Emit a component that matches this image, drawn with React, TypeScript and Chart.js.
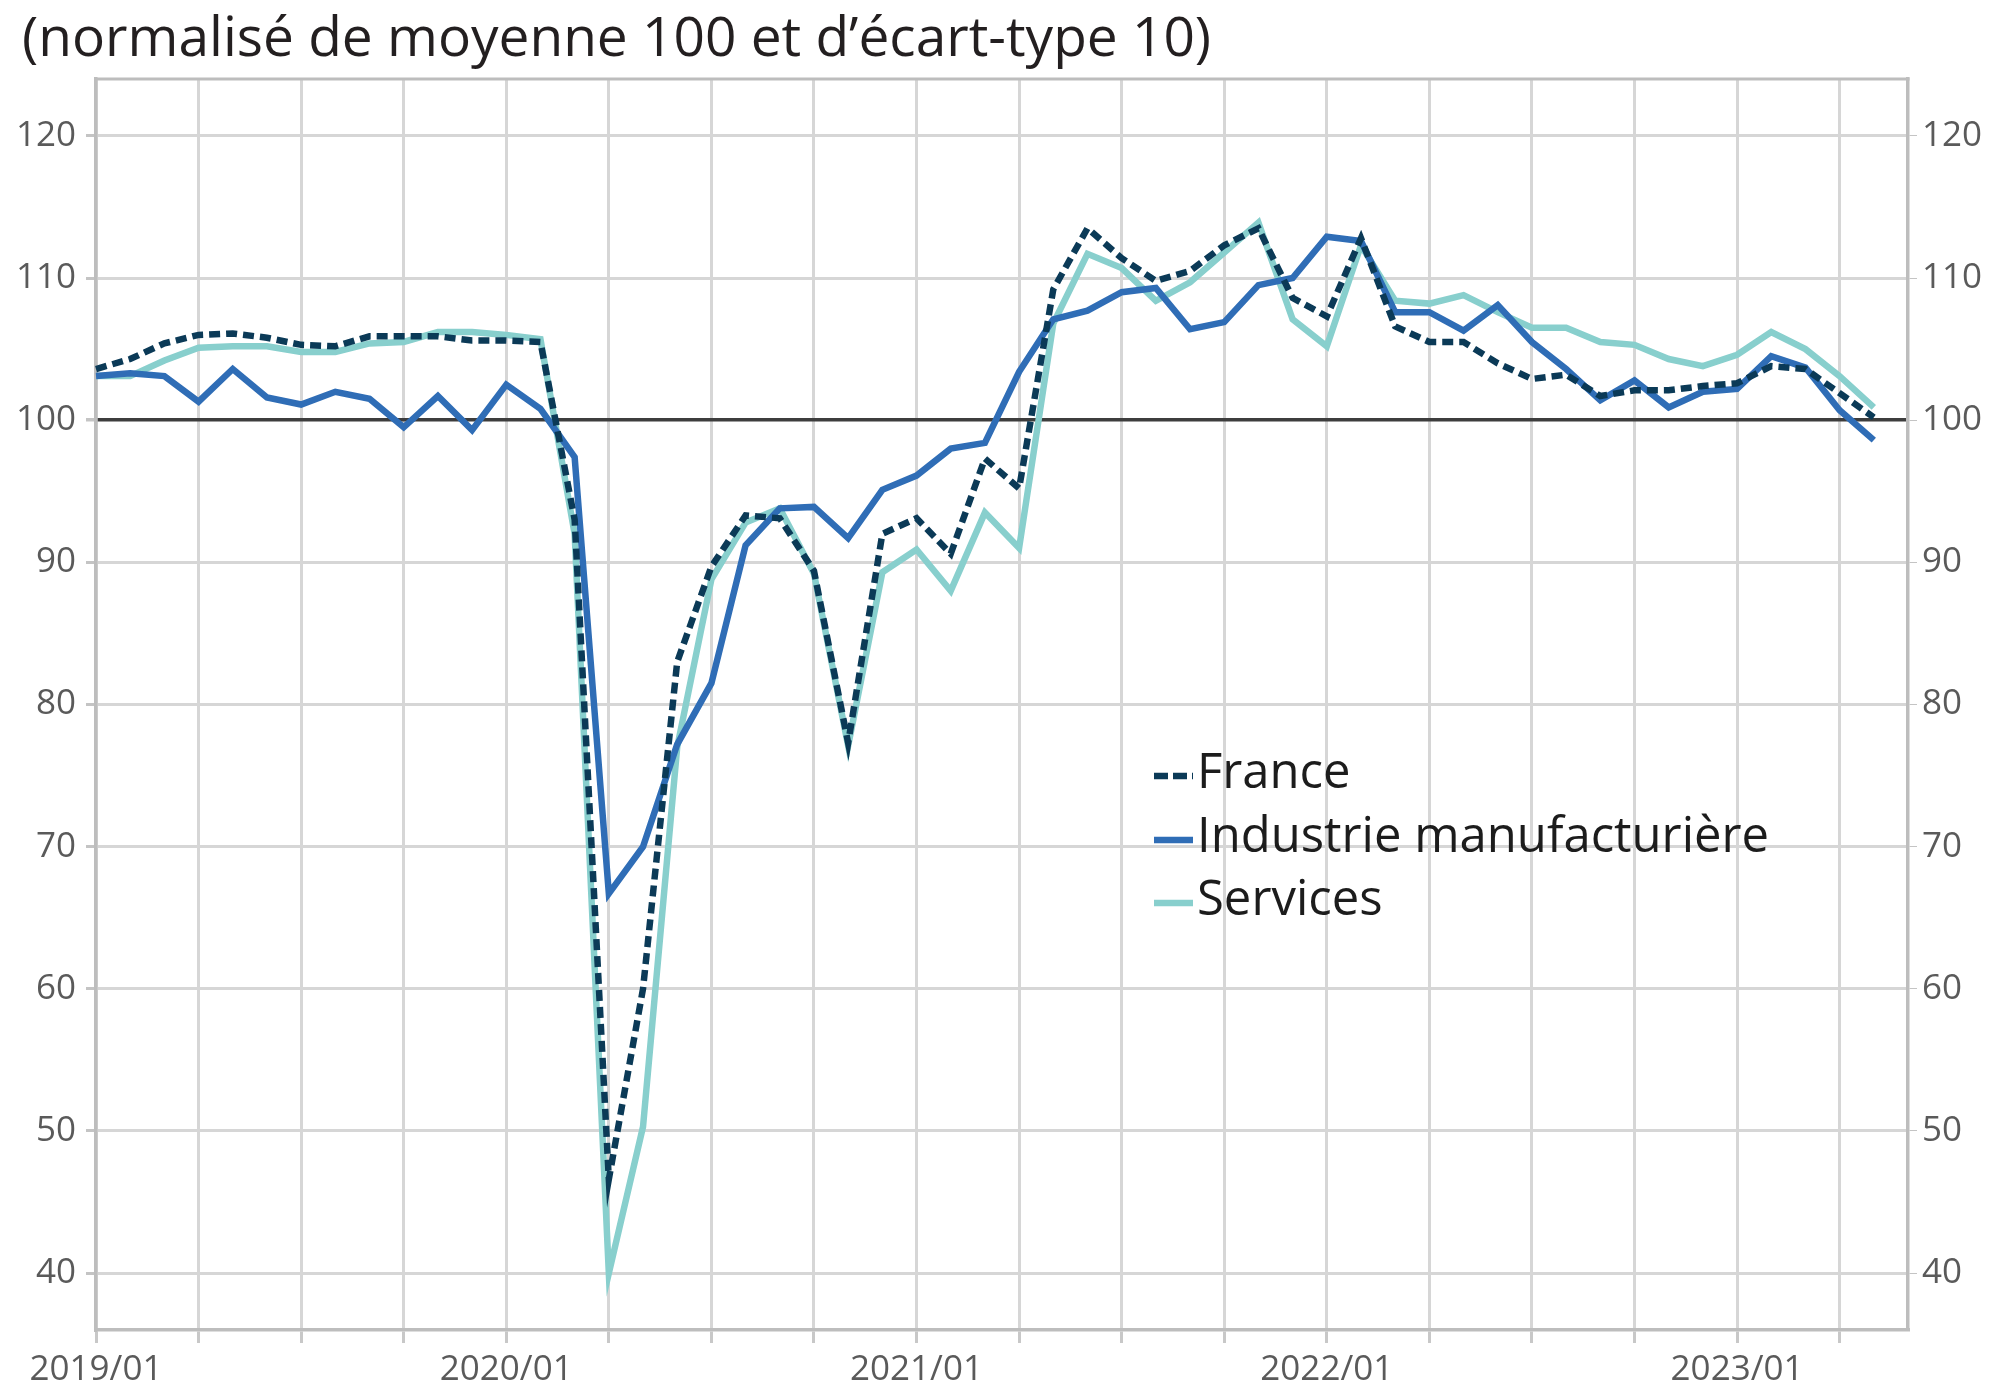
import { useEffect, useRef } from 'react';
import { Chart, registerables } from 'chart.js';

Chart.register(...registerables);

const months = [
  '2019/01', '2019/02', '2019/03', '2019/04', '2019/05', '2019/06', '2019/07', '2019/08', '2019/09', '2019/10', '2019/11', '2019/12',
  '2020/01', '2020/02', '2020/03', '2020/04', '2020/05', '2020/06', '2020/07', '2020/08', '2020/09', '2020/10', '2020/11', '2020/12',
  '2021/01', '2021/02', '2021/03', '2021/04', '2021/05', '2021/06', '2021/07', '2021/08', '2021/09', '2021/10', '2021/11', '2021/12',
  '2022/01', '2022/02', '2022/03', '2022/04', '2022/05', '2022/06', '2022/07', '2022/08', '2022/09', '2022/10', '2022/11', '2022/12',
  '2023/01', '2023/02', '2023/03', '2023/04', '2023/05', '2023/06',
];

const france = [
  103.6, 104.3, 105.4, 106.0, 106.1, 105.8, 105.3, 105.2, 105.9, 105.9, 105.9, 105.6,
  105.6, 105.5, 93.0, 46.6, 60.0, 83.0, 89.7, 93.3, 93.1, 89.4, 77.3, 92.0,
  93.1, 90.6, 97.3, 95.2, 109.2, 113.5, 111.4, 109.8, 110.5, 112.3, 113.5, 108.6,
  107.3, 112.8, 106.6, 105.5, 105.5, 104.0, 102.9, 103.2, 101.7, 102.1, 102.1, 102.4,
  102.6, 103.8, 103.6, 101.9, 100.2,
];

const industrie = [
  103.1, 103.3, 103.1, 101.3, 103.6, 101.6, 101.1, 102.0, 101.5, 99.5, 101.7, 99.3,
  102.5, 100.8, 97.4, 66.7, 70.0, 77.2, 81.5, 91.2, 93.8, 93.9, 91.7, 95.1,
  96.1, 98.0, 98.4, 103.4, 107.1, 107.7, 109.0, 109.3, 106.4, 106.9, 109.5, 110.0,
  112.9, 112.6, 107.6, 107.6, 106.3, 108.1, 105.5, 103.6, 101.4, 102.8, 100.9, 102.0,
  102.2, 104.5, 103.7, 100.7, 98.6,
];

const services = [
  103.1, 103.1, 104.2, 105.1, 105.2, 105.2, 104.8, 104.8, 105.4, 105.5, 106.2, 106.2,
  106.0, 105.7, 92.0, 40.0, 50.3, 77.0, 88.8, 92.8, 93.8, 89.2, 77.1, 89.3,
  90.9, 88.0, 93.5, 91.0, 106.8, 111.7, 110.7, 108.4, 109.7, 111.8, 113.9, 107.1,
  105.2, 112.3, 108.4, 108.2, 108.8, 107.6, 106.5, 106.5, 105.5, 105.3, 104.3, 103.8,
  104.6, 106.2, 105.0, 103.1, 100.9,
];

const yTickValues = [40, 50, 60, 70, 80, 90, 100, 110, 120];
const seriesLabels = ['France', 'Industrie manufacturière', 'Services'];
const titleText = '(normalisé de moyenne 100 et d\u2019écart-type 10)';

const C_FRANCE = '#0b3a57';
const C_INDUSTRIE = '#2f6db6';
const C_SERVICES = '#88cfcd';
const GRID = '#d6d6d6';
const AXIS = '#bdbdbd';
const TICK_TEXT = '#5a5a5a';
const FONT = '"Open Sans", "DejaVu Sans", sans-serif';

export default function App() {
  const ref = useRef<HTMLCanvasElement | null>(null);

  useEffect(() => {
    document.body.style.margin = '0';
    const canvas = ref.current;
    if (!canvas) return;

    const decor = {
      id: 'decor',
      afterDraw(chart: any) {
        const { ctx, chartArea } = chart;
        ctx.save();
        ctx.strokeStyle = AXIS;
        ctx.lineWidth = 3;
        ctx.beginPath();
        ctx.moveTo(chartArea.left - 1.5, chartArea.top);
        ctx.lineTo(chartArea.right + 1.5, chartArea.top);
        ctx.stroke();

        ctx.fillStyle = '#231f20';
        ctx.font = `55px ${FONT}`;
        ctx.textBaseline = 'alphabetic';
        ctx.textAlign = 'left';
        ctx.fillText(titleText, 22, 56);

        const rows = [774, 838, 901];
        chart.data.datasets.forEach((ds: any, i: number) => {
          const y = rows[i];
          ctx.strokeStyle = ds.borderColor;
          ctx.lineWidth = 6.5;
          ctx.setLineDash(ds.borderDash && ds.borderDash.length ? [14, 5] : []);
          ctx.lineCap = 'butt';
          ctx.beginPath();
          ctx.moveTo(1154, y + 2);
          ctx.lineTo(1193, y + 2);
          ctx.stroke();
          ctx.setLineDash([]);
          ctx.fillStyle = '#1c1c1c';
          ctx.font = `49px ${FONT}`;
          ctx.textBaseline = 'middle';
          ctx.fillText(ds.label, 1197, y);
        });
        ctx.restore();
      },
    };

    const tickFont = { family: FONT, size: 35 };

    const chart = new Chart(canvas, {
      type: 'line',
      data: {
        labels: months,
        datasets: [
          { label: seriesLabels[0], data: france, borderColor: C_FRANCE, borderWidth: 6.5, borderDash: [11, 6], pointRadius: 0, tension: 0, fill: false },
          { label: seriesLabels[1], data: industrie, borderColor: C_INDUSTRIE, borderWidth: 6.5, pointRadius: 0, tension: 0, fill: false },
          { label: seriesLabels[2], data: services, borderColor: C_SERVICES, borderWidth: 6.5, pointRadius: 0, tension: 0, fill: false },
        ],
      },
      options: {
        animation: false,
        responsive: false,
        devicePixelRatio: 1,
        layout: { padding: { top: 79, left: 0, right: 0, bottom: 0 } },
        plugins: {
          legend: { display: false },
          title: { display: false },
          tooltip: { enabled: false },
        },
        scales: {
          x: {
            type: 'category',
            offset: false,
            grid: {
              color: (c: any) => (c.index % 3 === 0 ? GRID : 'rgba(0,0,0,0)'),
              tickColor: (c: any) => (c.index % 3 === 0 ? '#c8c8c8' : 'rgba(0,0,0,0)'),
              lineWidth: 3,
              tickLength: 13,
            },
            border: { color: AXIS, width: 3.5 },
            ticks: {
              autoSkip: false,
              maxRotation: 0,
              minRotation: 0,
              padding: 6,
              color: TICK_TEXT,
              font: tickFont,
              callback: (_v: any, i: number) => (i % 12 === 0 ? months[i] : ''),
            },
            afterFit: (s: any) => { s.height = 57; },
          },
          y: {
            type: 'linear',
            position: 'left',
            min: 36,
            max: 124,
            afterBuildTicks: (s: any) => { s.ticks = yTickValues.map((v) => ({ value: v })); },
            grid: {
              color: (c: any) => (c.tick && c.tick.value === 100 ? '#3d3d3d' : GRID),
              lineWidth: (c: any) => (c.tick && c.tick.value === 100 ? 3.5 : 3),
              tickColor: '#c4c4c4',
              tickLength: 10,
            },
            border: { color: AXIS, width: 3.5 },
            ticks: { color: TICK_TEXT, font: tickFont, padding: 10 },
            afterFit: (s: any) => { s.width = 96; },
          },
          y2: {
            type: 'linear',
            position: 'right',
            min: 36,
            max: 124,
            afterBuildTicks: (s: any) => { s.ticks = yTickValues.map((v) => ({ value: v })); },
            grid: { drawOnChartArea: false, tickColor: '#c4c4c4', tickLength: 9 },
            border: { color: AXIS, width: 3.5 },
            ticks: { color: TICK_TEXT, font: tickFont, padding: 5 },
            afterFit: (s: any) => { s.width = 91; },
          },
        },
      },
      plugins: [decor],
    } as any);

    return () => chart.destroy();
  }, []);

  return <canvas ref={ref} width={1999} height={1387} style={{ display: 'block', width: 1999, height: 1387 }} />;
}
